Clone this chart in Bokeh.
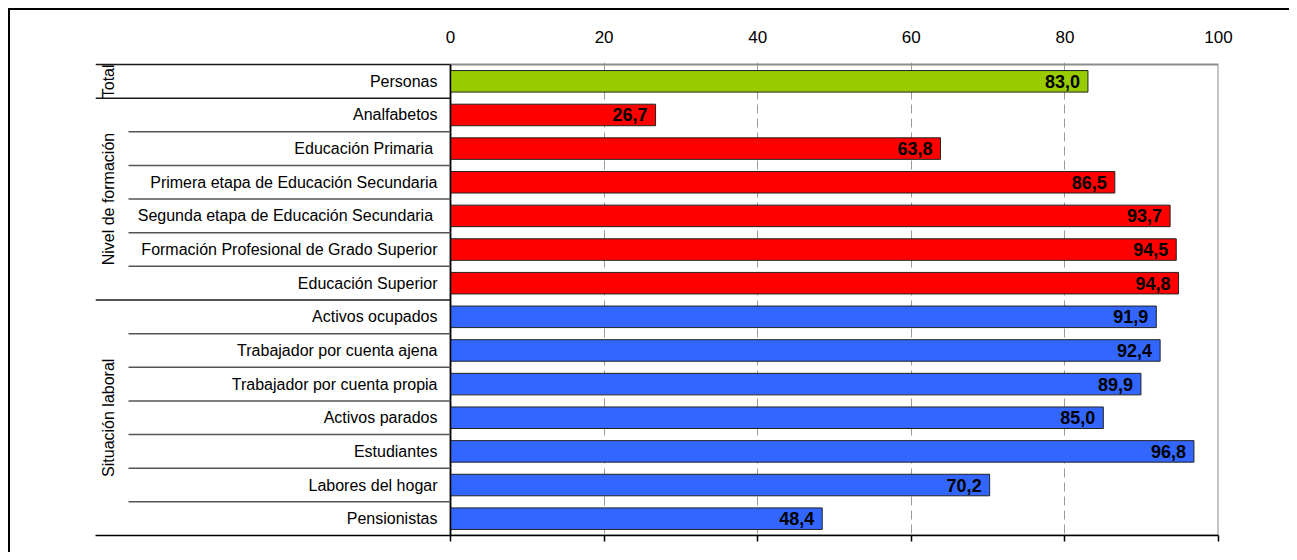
import math
from bokeh.plotting import figure
from bokeh.models import ColumnDataSource, Range1d, FixedTicker, LinearAxis
from bokeh.core.properties import value
from bokeh.embed import file_html
from bokeh.resources import INLINE

# ---------------- data ----------------
groups = ["Total", "Nivel de formación", "Situación laboral"]
group_sizes = [1, 6, 7]
group_colors = ["#99CC00", "#FF0000", "#3366FF"]
categories = [
    "Personas",
    "Analfabetos",
    "Educación Primaria ",
    "Primera etapa de Educación Secundaria",
    "Segunda etapa de Educación Secundaria ",
    "Formación Profesional de Grado Superior",
    "Educación Superior",
    "Activos ocupados",
    "Trabajador por cuenta ajena",
    "Trabajador por cuenta propia",
    "Activos parados",
    "Estudiantes",
    "Labores del hogar",
    "Pensionistas",
]
values = [83.0, 26.7, 63.8, 86.5, 93.7, 94.5, 94.8, 91.9, 92.4, 89.9, 85.0, 96.8, 70.2, 48.4]
x_ticks = [0, 20, 40, 60, 80, 100]
grid_ticks = [20, 40, 60, 80]

# ---------------- layout (element pixels) ----------------
FONT = "Liberation Sans"
ORIGIN = 0
ZERO_PX, HUNDRED_PX = 450, 1218
FRAME_LEFT_PX = 95
INNER_LINE_PX = 128
GROUP_LABEL_PX = 108
ROWS_TOP, ROWS_BOTTOM = 64, 535
TOP_PAD = 2
N = len(categories)
ROW_PX = (ROWS_BOTTOM - ROWS_TOP) / N
PX_PER_UNIT = (HUNDRED_PX - ZERO_PX) / 100.0
W, H = 1289, 552

def px_to_x(px):
    return (px - ZERO_PX) / PX_PER_UNIT

min_left = FRAME_LEFT_PX - ORIGIN
frame_w = HUNDRED_PX - FRAME_LEFT_PX
min_right = W - min_left - frame_w
min_top = ROWS_TOP - TOP_PAD - ORIGIN
frame_h = ROWS_BOTTOM - (ROWS_TOP - TOP_PAD)
min_bottom = H - min_top - frame_h

# ---------------- sources ----------------
colors = []
for g, n in enumerate(group_sizes):
    colors += [group_colors[g]] * n
ys = list(range(N))
src = ColumnDataSource(dict(
    y=ys, v=values, cat=categories, color=colors,
    lab=[f"{v:.1f}".replace(".", ",") for v in values],
))

starts = [0]
for n in group_sizes[:-1]:
    starts.append(starts[-1] + n)
gcenters = [s + (n - 1) / 2 for s, n in zip(starts, group_sizes)]
gsrc = ColumnDataSource(dict(x=[px_to_x(GROUP_LABEL_PX)] * len(groups), y=gcenters, text=groups))

sep_x0, sep_y, sep_col = [], [], []
for k in range(N):
    if k in starts:
        sep_x0.append(px_to_x(FRAME_LEFT_PX)); sep_col.append("#1a1a1a")
    else:
        sep_x0.append(px_to_x(INNER_LINE_PX)); sep_col.append("#555555")
    sep_y.append(k - 0.5)
ssrc = ColumnDataSource(dict(x0=sep_x0, y=sep_y, x1=[0] * N, c=sep_col))

# ---------------- figure ----------------
p = figure(
    width=W, height=H,
    x_range=Range1d(px_to_x(FRAME_LEFT_PX), 100),
    y_range=Range1d(N - 0.5, -0.5 - TOP_PAD / ROW_PX),
    x_axis_location="above", y_axis_location=None,
    output_backend="svg", toolbar_location=None,
    min_border_left=min_left, min_border_right=min_right,
    min_border_top=min_top, min_border_bottom=min_bottom,
    outline_line_color=None, background_fill_color="white",
    border_fill_color=None,
)
# outer chart-area frame (top and left edges; right/bottom fall outside the picture)
p.styles = {
    "background": "linear-gradient(#000, #000) 8px 8px / 100% 2px no-repeat, "
                  "linear-gradient(#000, #000) 8px 8px / 2px 100% no-repeat, #ffffff",
}

top = p.xaxis[0]
top.ticker = FixedTicker(ticks=x_ticks)
top.axis_line_color = None
top.major_tick_line_color = None
top.minor_tick_line_color = None
top.major_tick_out = 0
top.major_tick_in = 0
top.major_label_standoff = 20
top.major_label_text_font = FONT
top.major_label_text_font_size = "17px"
top.major_label_text_color = "black"

bottom = LinearAxis(
    ticker=FixedTicker(ticks=x_ticks),
    axis_line_color="black", axis_line_width=1.5,
    major_tick_line_color="black", major_tick_line_width=1.5,
    major_tick_out=6, major_tick_in=0,
    minor_tick_line_color=None,
    major_label_text_color=None, major_label_standoff=0,
    major_label_text_font_size="1px",
)
p.add_layout(bottom, "below")

p.xgrid.ticker = FixedTicker(ticks=grid_ticks)
p.xgrid.grid_line_color = "#9a9a9a"
p.xgrid.grid_line_dash = "9 5"
p.xgrid.grid_line_width = 1
p.ygrid.grid_line_color = None

p.quad(left=[0], right=[100], top=[-0.5], bottom=[N - 0.5],
       fill_color=None, line_color="#8c8c8c", line_width=2)

p.hbar(y="y", left=0, right="v", height=0.64, fill_color="color",
       line_color="#222222", line_width=1, source=src)

p.segment(x0=[0], y0=[-0.5], x1=[0], y1=[N - 0.5], line_color="black", line_width=1.5)

p.segment(x0="x0", y0="y", x1="x1", y1="y", line_color="c", line_width=1.5, source=ssrc)

p.text(x="v", y="y", text="lab", x_offset=-8, text_align="right", text_baseline="middle",
       text_font=value(FONT), text_font_style="bold", text_font_size="18px",
       text_color="black", source=src)

p.text(x=0, y="y", text="cat", x_offset=-13, text_align="right", text_baseline="middle",
       text_font=value(FONT), text_font_size="16px", text_color="black", source=src)

p.text(x="x", y="y", text="text", angle=math.pi / 2, text_align="center",
       text_baseline="middle", text_font=value(FONT), text_font_size="16px",
       text_color="black", source=gsrc)

open("out.html", "w").write(file_html(p, INLINE))
